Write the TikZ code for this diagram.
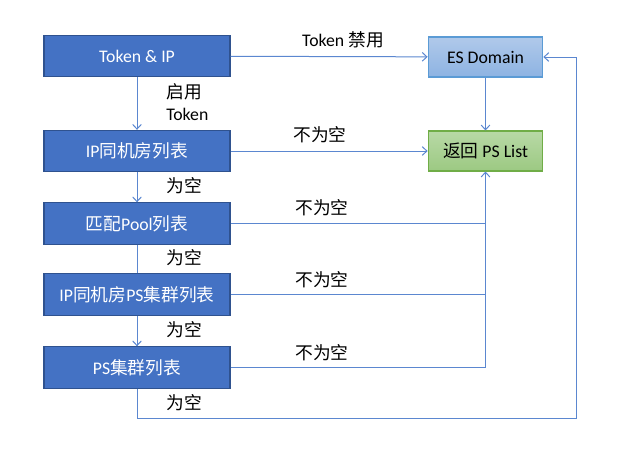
\documentclass[tikz,border=0pt]{standalone}
\usepackage{fontspec}
\setmainfont{Carlito}
\newfontfamily\cjk{Noto Sans CJK SC}
\usetikzlibrary{arrows.meta}
\definecolor{boxblue}{HTML}{4472C4}
\definecolor{boxedge}{HTML}{2F528F}
\definecolor{linec}{HTML}{5B87D0}
\definecolor{esA}{HTML}{B0C9EA}
\definecolor{esB}{HTML}{8DB3E2}
\definecolor{esE}{HTML}{5B9BD5}
\definecolor{grA}{HTML}{B8D9A6}
\definecolor{grB}{HTML}{9CC982}
\definecolor{grE}{HTML}{70AD47}
\tikzset{
  bluebox/.style={draw=boxedge, line width=0.8pt, fill=boxblue, text=white, minimum width=139.5pt, minimum height=31pt, inner sep=0pt, font=\fontsize{13.3}{15}\selectfont},
  esbox/.style={draw=esE, line width=0.8pt, top color=esA, bottom color=esB, minimum width=86pt, minimum height=30pt, inner sep=0pt, font=\fontsize{13.3}{15}\selectfont},
  grbox/.style={draw=grE, line width=0.8pt, top color=grA, bottom color=grB, minimum width=86pt, minimum height=30pt, inner sep=0pt, font=\fontsize{13.3}{15}\selectfont},
  conn/.style={draw=linec, line width=0.75pt},
  arr/.style={conn, -{Straight Barb[length=3.5pt,width=6.5pt]}},
  lbl/.style={font=\fontsize{13.3}{15}\selectfont, inner sep=0pt},
}
\begin{document}
\begin{tikzpicture}[x=0.75pt,y=-0.75pt]
\useasboundingbox (0,0) rectangle (624,462);
\node[bluebox] (b1) at (137,56) {Token \& IP};
\node[bluebox] (b2) at (137,151) {IP{\cjk 同机房列表}};
\node[bluebox] (b3) at (137,223.5) {{\cjk 匹配}Pool{\cjk 列表}};
\node[bluebox] (b4) at (137,294.5) {IP{\cjk 同机房}PS{\cjk 集群列表}};
\node[bluebox] (b5) at (137,367.5) {PS{\cjk 集群列表}};
\node[esbox] (es) at (485.5,57) {ES Domain};
\node[grbox] (ret) at (485.5,151) {{\cjk 返回} PS List};

\coordinate (c1) at (137,418);
\coordinate (c2) at (576,418);
\coordinate (c3) at (576,57);

\draw[arr] (b1) -- (es);
\draw[arr] (b1) -- (b2);
\draw[arr] (b2) -- (ret);
\draw[arr] (b2) -- (b3);
\draw[conn] (b3) -- (b4);
\draw[arr] (b4) -- (b5);
\draw[arr] (es) -- (ret);
\draw[conn] (b3.east) -- (ret.south |- b3.east);
\draw[conn] (b4.east) -- (ret.south |- b4.east);
\draw[arr] (b5.east) -| (ret.south);
\draw[arr] (b5.south) -- (c1) -- (c2) -- (c3) -- (es.east);

\node[lbl] (t1) at (343,40) {Token {\cjk 禁用}};
\node[lbl, anchor=west] (t2) at (166,92) {\cjk 启用};
\node[lbl, anchor=west] (t3) at (166,114) {Token};
\node[lbl] (n1) at (320,135) {\cjk 不为空};
\node[lbl] (n2) at (322,208) {\cjk 不为空};
\node[lbl] (n3) at (322,280) {\cjk 不为空};
\node[lbl] (n4) at (322,353) {\cjk 不为空};
\node[lbl] (e1) at (184,186) {\cjk 为空};
\node[lbl] (e2) at (184,258) {\cjk 为空};
\node[lbl] (e3) at (184,330) {\cjk 为空};
\node[lbl] (e4) at (184,403) {\cjk 为空};
\end{tikzpicture}
\end{document}
